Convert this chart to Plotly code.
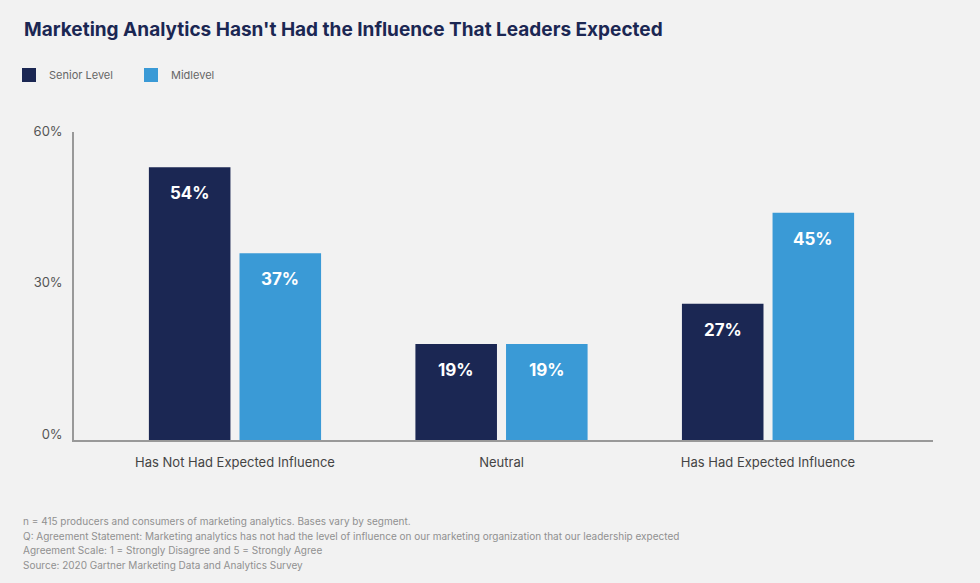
import plotly.graph_objects as go

categories = ["Has Not Had Expected Influence", "Neutral", "Has Had Expected Influence"]
senior = [54, 19, 27]
midlevel = [37, 19, 45]
series_names = ["Senior Level", "Midlevel"]
y_ticks = [0, 30, 60]
y_tick_labels = ["0%", "30%", "60%"]
footnotes = [
    "n = 415 producers and consumers of marketing analytics. Bases vary by segment.",
    "Q: Agreement Statement: Marketing analytics has not had the level of influence on our marketing organization that our leadership expected",
    "Agreement Scale: 1 = Strongly Disagree and 5 = Strongly Agree",
    "Source: 2020 Gartner Marketing Data and Analytics Survey",
]

NAVY = "#1b2753"
BLUE = "#3a9ad6"
BG = "#f2f2f2"
FONT = "Inter, Roboto, Liberation Sans, sans-serif"

W, H = 980, 583
ML, MR, MT, MB = 74, 47, 132, 583 - 440
PW, PH = W - ML - MR, H - MT - MB


def px_x(px):  # page px -> paper
    return (px - ML) / PW


def px_y(py):
    return (H - MB - py) / PH


BARGAP, GROUPGAP = 0.32, 0.1

fig = go.Figure()
fig.add_trace(go.Bar(x=categories, y=senior, name=series_names[0], showlegend=False,
                     marker=dict(color=NAVY, line=dict(width=0))))
fig.add_trace(go.Bar(x=categories, y=midlevel, name=series_names[1], showlegend=False,
                     marker=dict(color=BLUE, line=dict(width=0))))
# legend entries with larger square swatches
for name, col in zip(series_names, (NAVY, BLUE)):
    fig.add_trace(go.Scatter(x=[None], y=[None], mode="markers", name=name,
                             marker=dict(symbol="square", size=14, color=col),
                             hoverinfo="skip"))

# value labels inside bars near the top
slot = (1 - BARGAP) / 2
for i, (s, m) in enumerate(zip(senior, midlevel)):
    for val, off in ((s, -slot / 2), (m, slot / 2)):
        fig.add_annotation(x=i + off, y=val, xref="x", yref="y",
                           text=f"<b>{val}%</b>", showarrow=False,
                           yanchor="middle", yshift=-26,
                           font=dict(family=FONT, size=17, color="white"))

fig.add_annotation(text="<b>Marketing Analytics Hasn't Had the Influence That Leaders Expected</b>",
                   xref="paper", yref="paper", x=px_x(22), y=px_y(30),
                   xanchor="left", yanchor="middle", showarrow=False,
                   font=dict(family=FONT, size=19, color="#1b2753"))

for k, line in enumerate(footnotes):
    fig.add_annotation(text=line, xref="paper", yref="paper",
                       x=px_x(21), y=px_y(521 + 14.7 * k),
                       xanchor="left", yanchor="middle", showarrow=False,
                       font=dict(family=FONT, size=10, color="#909090"))

fig.update_layout(
    width=W, height=H,
    paper_bgcolor=BG, plot_bgcolor=BG,
    margin=dict(l=ML, r=MR, t=MT, b=MB, autoexpand=False),
    barmode="group", bargap=BARGAP, bargroupgap=GROUPGAP,
    font=dict(family=FONT, color="#555555"),
    showlegend=True,
    legend=dict(orientation="h", xref="paper", yref="paper",
                x=px_x(9), y=px_y(75), xanchor="left", yanchor="middle",
                font=dict(family=FONT, size=11, color="#666666"),
                bgcolor="rgba(0,0,0,0)", itemwidth=30, traceorder="normal",
                entrywidth=77, entrywidthmode="pixels"),
    xaxis=dict(type="category", range=[-0.604, 2.619], showgrid=False,
               showline=True, linecolor="#999999", linewidth=1.5,
               ticks="", ticklabelstandoff=10,
               tickfont=dict(family=FONT, size=13, color="#444444"),
               fixedrange=True),
    yaxis=dict(range=[0, 61], tickvals=y_ticks, ticktext=y_tick_labels,
               showgrid=False, zeroline=False, showline=True,
               linecolor="#999999", linewidth=1.5, ticks="",
               ticklabelstandoff=7, ticklabelshift=-6,
               tickfont=dict(family=FONT, size=13, color="#555555"),
               fixedrange=True),
)

fig.write_html(
    "out.html",
    config={"displayModeBar": False},
    post_script="document.body.style.margin='0';document.body.style.overflow='hidden';"
                "document.body.style.background='#f2f2f2';",
)
